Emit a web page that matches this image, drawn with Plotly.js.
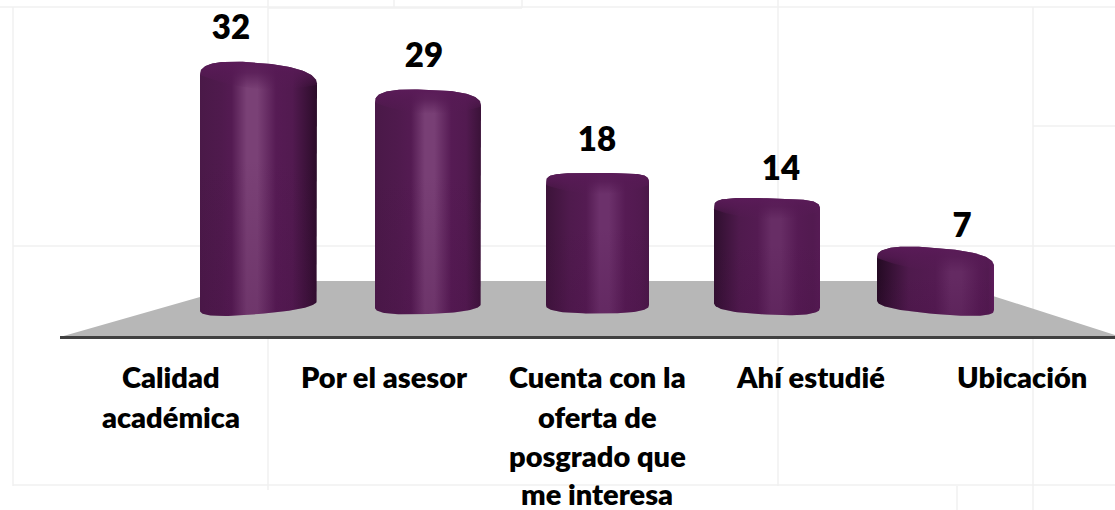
<!DOCTYPE html>
<html><head><meta charset="utf-8">
<script src="https://cdn.plot.ly/plotly-3.0.1.min.js"></script>
<style>html,body{margin:0;padding:0;background:#fff}#c{width:1115px;height:510px}</style>
</head><body><div id="c"></div><script>
// ---- data ----
const categories = ["Calidad\nacadémica","Por el asesor","Cuenta con la\noferta de\nposgrado que\nme interesa","Ahí estudié","Ubicación"];
const values = [32,29,18,14,7];

// ---- layout constants (pixels of the 1115x510 picture) ----
const W=1115,H=510, zeroPx=310.5, pxPerUnit=7.3;
const barLeft =[200,375,546,714,877];
const barRight=[317,481,649,820,994];
const shoulderDrop=[3,6,6,2,3];
const rimTop  =[17,15,12,12,14.5];
const skewTop =[5,2,0,1,4.5];
const roundTop=[2.5,2.8,4.5,4,2.6];
const rimBot  =[9,9,8.5,9.5,9];
const skewBot =[-5,-2,0,2.5,5];
const baseCentre=305;
const highlight=[0.45,0.52,0.57,0.59,0.68];
const highlightCol=["#7a4176","#783f75","#6c316b","#672d65","#642a62"];
const leftCol =["#4a1948","#4a1948","#3c1339","#2f0f2e","#240a23"];
const rightCol=["#2b0c29","#3a1238","#4a1848","#561b54","#5e1c5c"];
const labelX=[231,424,597,781,962];
const labelY=[31,59,143,172,229];
const tickX =[171,384,597,810,1022];
const tickLineY=[376,416,455,493];
const gridCol="#f0f0f0";
const gridLines=[[0,7,W,7],[13,7,13,486],[268,0,268,490],[394,0,394,8],[522,0,522,8],[268,8,522,8],
 [778,0,778,486],[1033,7,1033,510],[957,486,957,510],[13,246,W,246],[1033,126,W,126],[13,485,W,485]];

const toVal=p=>(zeroPx-p)/pxPerUnit;
const font={family:"Lato, Carlito, sans-serif",color:"#000"};
const traces=[];
const pow=(a,e)=>Math.sign(a)*Math.pow(Math.abs(a),e);

values.forEach((v,i)=>{
  const L=barLeft[i],R=barRight[i],cx=(L+R)/2,hw=(R-L)/2,yc=zeroPx-v*pxPerUnit+shoulderDrop[i];
  const topPts=[],botPts=[];
  const ex=2/roundTop[i];
  for(let k=0;k<=64;k++){
    const t=Math.PI*(1-k/64), u=pow(Math.cos(t),ex), s=pow(Math.sin(t),ex);
    topPts.push([cx+hw*u, yc-rimTop[i]*s+skewTop[i]*u]);
    const u2=pow(Math.cos(t),2/2.6), s2=pow(Math.sin(t),2/2.6);
    botPts.unshift([cx+hw*u2, baseCentre+rimBot[i]*s2+skewBot[i]*u2]);
  }
  const ring=topPts.concat(botPts);
  const h=highlight[i], hc=highlightCol[i];
  traces.push({type:"scatter",mode:"lines",fill:"toself",hoverinfo:"skip",showlegend:false,
    line:{width:0},x:ring.map(p=>p[0]),y:ring.map(p=>toVal(p[1])),
    fillgradient:{type:"horizontal",colorscale:[[0,leftCol[i]],[h*0.4,"#4f1a4d"],[h-0.18,"#541b52"],[h-0.05,hc],[h+0.04,hc],[h+0.2,"#561b54"],[Math.min(h+0.34,0.95),"#521a50"],[1,rightCol[i]]]}});
  // darkening of the lower body
  const lowerTop=yc+(baseCentre-yc)*0.35;
  const lower=[[L,lowerTop],[R,lowerTop]].concat(botPts);
  traces.push({type:"scatter",mode:"lines",fill:"toself",hoverinfo:"skip",showlegend:false,
    line:{width:0},x:lower.map(p=>p[0]),y:lower.map(p=>toVal(p[1])),
    fillgradient:{type:"vertical",colorscale:[[0,"rgba(70,15,68,0.22)"],[1,"rgba(70,15,68,0)"]]}});
  // dome of the cylinder top
  const depth=9;
  const dome=topPts.concat(topPts.slice().reverse().map(p=>{
    const e=(p[0]-cx)/hw; return [p[0], yc+skewTop[i]*e+depth*(1-e*e)];}));
  traces.push({type:"scatter",mode:"lines",fill:"toself",hoverinfo:"skip",showlegend:false,
    line:{width:0},x:dome.map(p=>p[0]),y:dome.map(p=>toVal(p[1])),
    fillgradient:{type:"vertical",colorscale:[[0,"rgba(86,26,84,0)"],[0.6,"rgba(86,26,84,0.8)"],[1,"rgba(90,27,88,1)"]]}});
});

// value labels
traces.push({type:"scatter",mode:"text",hoverinfo:"skip",showlegend:false,
  x:labelX,y:labelY.map(toVal),text:values.map(String),textposition:"middle center",
  textfont:Object.assign({},font,{size:33,weight:800})});

// shapes
const shapes=gridLines.map(g=>({type:"line",layer:"below",xref:"x",yref:"y",x0:g[0],x1:g[2],y0:toVal(g[1]),y1:toVal(g[3]),line:{color:gridCol,width:1.5}}));
const floorPts=[[60,337],[256,281],[946,281],[W,335],[W,337]];
shapes.push({type:"path",layer:"below",xref:"x",yref:"y",line:{width:0},fillcolor:"#b7b7b7",
  path:floorPts.map((p,k)=>(k?"L":"M")+p[0]+","+toVal(p[1])).join(" ")+" Z"});
shapes.push({type:"line",layer:"below",xref:"x",yref:"y",x0:60,x1:W,y0:toVal(337.5),y1:toVal(337.5),line:{color:"#404040",width:3}});

// category labels, line by line (picture's line spacing is wider than the axis default)
const annotations=[];
categories.forEach((c,i)=>c.split("\n").forEach((ln,k)=>annotations.push({
  text:ln,xref:"x",yref:"y",x:tickX[i],y:toVal(tickLineY[k]),showarrow:false,
  xanchor:"center",yanchor:"middle",font:Object.assign({},font,{size:29,weight:800})})));

Plotly.newPlot("c",traces,{
  width:W,height:H,margin:{l:0,r:0,t:0,b:0},paper_bgcolor:"#fff",plot_bgcolor:"#fff",showlegend:false,
  xaxis:{range:[0,W],visible:false,fixedrange:true},
  yaxis:{range:[toVal(H),toVal(0)],visible:false,fixedrange:true},
  shapes,annotations,font
},{displayModeBar:false,staticPlot:true});
</script></body></html>
